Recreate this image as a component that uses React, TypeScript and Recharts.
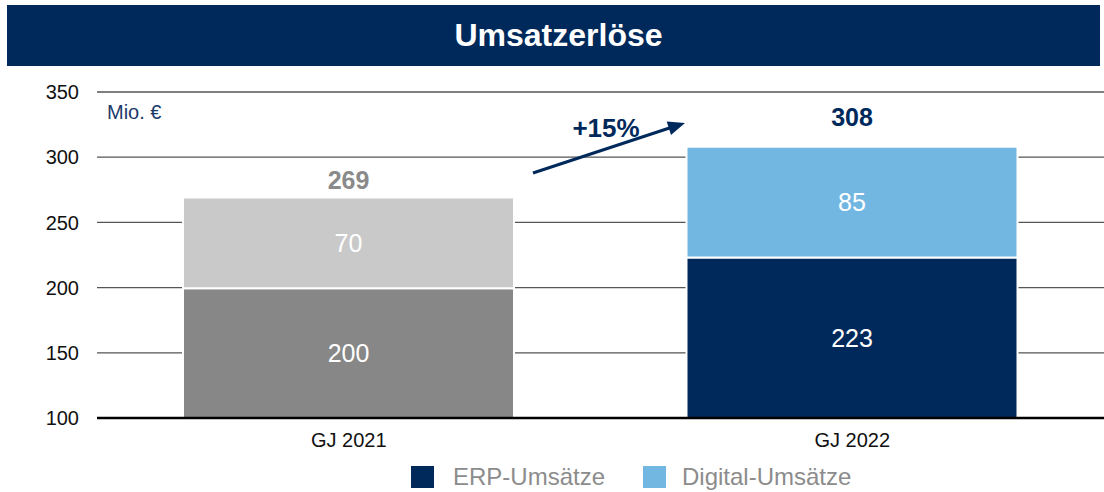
import React from "react";
import {
  BarChart,
  Bar,
  XAxis,
  YAxis,
  CartesianGrid,
  Cell,
  LabelList,
  ReferenceLine,
} from "recharts";

const categories = ["GJ 2021", "GJ 2022"];
const erpValues = [199.5, 223];
const digitalValues = [69.5, 85];
const yTicks = [100, 150, 200, 250, 300, 350];
const seriesNames = ["ERP-Umsätze", "Digital-Umsätze"];
const title = "Umsatzerlöse";
const unitLabel = "Mio. €";
const growthLabel = "+15%";

const NAVY = "#00295B";
const LIGHT_BLUE = "#72B7E2";
const erpColors = ["#878787", NAVY];
const digitalColors = ["#C9C9C9", LIGHT_BLUE];
const totalColors = ["#8A8A8A", NAVY];
const totalOffsets = [18, 30];
const FONT = '"Liberation Sans", Arial, sans-serif';
const Y_MIN = 100;

const data = categories.map((name, i) => ({
  name,
  erp: erpValues[i],
  digital: digitalValues[i],
  total: erpValues[i] + digitalValues[i],
}));

// segment value, centred in the visible part of the bar
function SegmentLabel(props: any) {
  const { x, y, width, height, value } = props;
  return (
    <text
      x={x + width / 2}
      y={y + height / 2}
      fill="#fff"
      fontSize={25}
      fontFamily={FONT}
      textAnchor="middle"
      dominantBaseline="central"
    >
      {Math.round(value)}
    </text>
  );
}

function TotalLabel(props: any) {
  const { x, y, width, index } = props;
  return (
    <text
      x={x + width / 2}
      y={y - totalOffsets[index]}
      fill={totalColors[index]}
      fontSize={25}
      fontWeight="bold"
      fontFamily={FONT}
      textAnchor="middle"
      dominantBaseline="central"
    >
      {Math.round(data[index].total)}
    </text>
  );
}

export default function App() {
  return (
    <div
      style={{
        position: "absolute",
        left: 0,
        top: 0,
        width: 1104,
        height: 492,
        background: "#fff",
        fontFamily: FONT,
        overflow: "hidden",
      }}
    >
      <div
        style={{
          position: "absolute",
          left: 7,
          top: 5,
          width: 1093,
          height: 61,
          background: NAVY,
          color: "#fff",
          fontWeight: "bold",
          fontSize: 32,
          lineHeight: "61px",
          textAlign: "center",
          boxSizing: "border-box",
          paddingLeft: 10,
        }}
      >
        {title}
      </div>

      <div style={{ position: "absolute", left: 0, top: 0 }}>
        <BarChart
          width={1104}
          height={492}
          data={data}
          margin={{ top: 92, right: 0, left: 0, bottom: 44 }}
          barSize={331}
        >
          <CartesianGrid vertical={false} stroke="#555" strokeWidth={1.3} />
          <XAxis
            dataKey="name"
            height={30}
            axisLine={false}
            tickLine={false}
            tickSize={0}
            tickMargin={15}
            tick={{ fill: "#111", fontSize: 20, fontFamily: FONT }}
          />
          <YAxis
            width={97}
            domain={[Y_MIN, 350]}
            ticks={yTicks}
            allowDataOverflow
            axisLine={false}
            tickLine={false}
            tickSize={0}
            tickMargin={18}
            tick={{ fill: "#111", fontSize: 20, fontFamily: FONT }}
          />
          <Bar
            dataKey="erp"
            name={seriesNames[0]}
            stackId="a"
            stroke="#fff"
            strokeWidth={2}
            isAnimationActive={false}
          >
            {data.map((d, i) => (
              <Cell key={d.name} fill={erpColors[i]} />
            ))}
            <LabelList dataKey="erp" content={SegmentLabel} />
          </Bar>
          <Bar
            dataKey="digital"
            name={seriesNames[1]}
            stackId="a"
            stroke="#fff"
            strokeWidth={2}
            isAnimationActive={false}
          >
            {data.map((d, i) => (
              <Cell key={d.name} fill={digitalColors[i]} />
            ))}
            <LabelList dataKey="digital" content={SegmentLabel} />
            <LabelList dataKey="total" content={TotalLabel} />
          </Bar>
          <ReferenceLine y={Y_MIN} stroke="#000" strokeWidth={2.5} />
        </BarChart>
      </div>

      <div
        style={{
          position: "absolute",
          left: 107,
          top: 100,
          fontSize: 20,
          color: "#1B3A6B",
          lineHeight: "24px",
        }}
      >
        {unitLabel}
      </div>

      <svg
        width={1104}
        height={492}
        style={{ position: "absolute", left: 0, top: 0, pointerEvents: "none" }}
      >
        <line x1={533} y1={173} x2={671} y2={127.5} stroke={NAVY} strokeWidth={3} />
        <polygon points="685,123 671,135 666.7,121.6" fill={NAVY} />
        <text
          x={606}
          y={128}
          fill={NAVY}
          fontSize={26}
          fontWeight="bold"
          fontFamily={FONT}
          textAnchor="middle"
          dominantBaseline="central"
        >
          {growthLabel}
        </text>
      </svg>

      {[
        { left: 411, textLeft: 453, color: NAVY },
        { left: 643, textLeft: 682, color: LIGHT_BLUE },
      ].map((item, i) => (
        <React.Fragment key={seriesNames[i]}>
          <div
            style={{
              position: "absolute",
              left: item.left,
              top: 466,
              width: 23,
              height: 22,
              background: item.color,
            }}
          />
          <div
            style={{
              position: "absolute",
              left: item.textLeft,
              top: 463,
              fontSize: 24,
              lineHeight: "28px",
              color: "#8C8C8C",
              whiteSpace: "nowrap",
            }}
          >
            {seriesNames[i]}
          </div>
        </React.Fragment>
      ))}
    </div>
  );
}
